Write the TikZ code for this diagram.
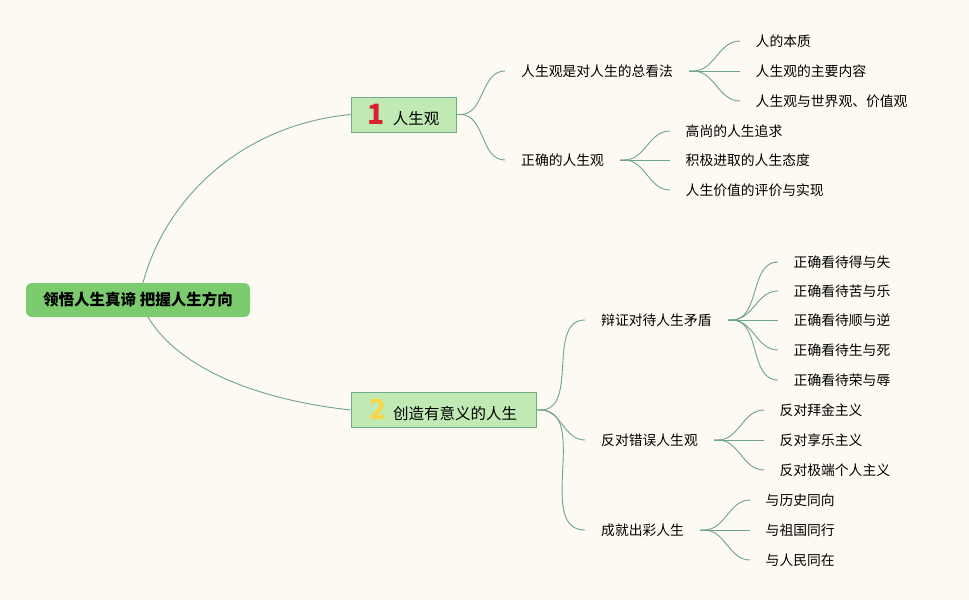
\documentclass[tikz,border=0pt]{standalone}
\usepackage{fontspec}
\setmainfont{Noto Sans CJK SC}
\usepackage{tikz}
\usepackage{xcolor}
\definecolor{paper}{HTML}{FDFBF1}
\definecolor{branchline}{HTML}{6FA38C}
\definecolor{rootgreen}{HTML}{7DCB6F}
\definecolor{topicgreen}{HTML}{C0E9B4}
\definecolor{topicedge}{HTML}{72AB8A}
\definecolor{markred}{HTML}{D9202E}
\definecolor{markyellow}{HTML}{F6D64A}
\newcommand{\topicmark}[2]{{\color{#1}\fontsize{28}{28}\selectfont\bfseries #2}}

\begin{document}
\begin{tikzpicture}[x=1pt,y=-1pt,
    root/.style={fill=rootgreen,rounded corners=6pt,minimum width=224pt,minimum height=34pt,font=\fontsize{15.5}{18}\selectfont\bfseries},
    topic/.style={fill=topicgreen,draw=topicedge,line width=0.8pt,minimum height=35pt,inner ysep=0pt,font=\fontsize{15.5}{18}\selectfont},
    sub/.style={anchor=west,inner xsep=16pt,inner ysep=1pt,font=\fontsize{13.8}{16}\selectfont},
    leaf/.style={sub,inner xsep=15.5pt},
    branch/.style={draw=branchline,line width=0.9pt}]
      \fill [paper] (0,0) rectangle (969,600);
      \useasboundingbox (0,0) rectangle (969,600);
      \node [root] (R) at (138,300) {领悟人生真谛 把握人生方向};
      \node [topic,minimum width=105pt] (T1) at (403.5,114.5) {\topicmark{markred}{1}\hspace{8pt}人生观};
      \node [topic,minimum width=185pt] (T2) at (443.5,410) {\topicmark{markyellow}{2}\hspace{6pt}创造有意义的人生};
      \draw [branch] ([xshift=5pt]R.north) .. controls (165,200) and (240,125) .. (T1.west);
      \draw [branch] ([xshift=10pt]R.south) .. controls (180,370) and (260,400) .. (T2.west);
      % first topic
      \node [sub] (A1) at (505,71) {人生观是对人生的总看法};
      \node [sub] (A2) at (505,160) {正确的人生观};
      \draw [branch] (T1.east) -- ++(4,0) to [out=0,in=180] (A1.west);
      \draw [branch] (T1.east) -- ++(4,0) to [out=0,in=180] (A2.west);
      \node [leaf] (A11) at (740,41) {人的本质};
      \node [leaf] (A12) at (740,71) {人生观的主要内容};
      \node [leaf] (A13) at (740,101) {人生观与世界观、价值观};
      \draw [branch] (A1.east) -- ++(4,0) to [out=0,in=180] (A11.west);
      \draw [branch] (A1.east) -- (A12.west);
      \draw [branch] (A1.east) -- ++(4,0) to [out=0,in=180] (A13.west);
      \node [leaf] (A21) at (670,131) {高尚的人生追求};
      \node [leaf] (A22) at (670,160) {积极进取的人生态度};
      \node [leaf] (A23) at (670,190) {人生价值的评价与实现};
      \draw [branch] (A2.east) -- ++(4,0) to [out=0,in=180] (A21.west);
      \draw [branch] (A2.east) -- (A22.west);
      \draw [branch] (A2.east) -- ++(4,0) to [out=0,in=180] (A23.west);
      % second topic
      \node [sub] (B1) at (585,320) {辩证对待人生矛盾};
      \node [sub] (B2) at (585,440) {反对错误人生观};
      \node [sub] (B3) at (585,530) {成就出彩人生};
      \draw [branch] (T2.east) -- ++(4,0) to [out=0,in=180] (B1.west);
      \draw [branch] (T2.east) -- ++(4,0) to [out=0,in=180] (B2.west);
      \draw [branch] (T2.east) -- ++(4,0) to [out=0,in=180] (B3.west);
      \node [leaf] (B11) at (778,262) {正确看待得与失};
      \node [leaf] (B12) at (778,291) {正确看待苦与乐};
      \node [leaf] (B13) at (778,320) {正确看待顺与逆};
      \node [leaf] (B14) at (778,350) {正确看待生与死};
      \node [leaf] (B15) at (778,380) {正确看待荣与辱};
      \draw [branch] (B1.east) -- ++(4,0) to [out=0,in=180] (B11.west);
      \draw [branch] (B1.east) -- ++(4,0) to [out=0,in=180] (B12.west);
      \draw [branch] (B1.east) -- (B13.west);
      \draw [branch] (B1.east) -- ++(4,0) to [out=0,in=180] (B14.west);
      \draw [branch] (B1.east) -- ++(4,0) to [out=0,in=180] (B15.west);
      \node [leaf] (B21) at (764,410) {反对拜金主义};
      \node [leaf] (B22) at (764,440) {反对享乐主义};
      \node [leaf] (B23) at (764,470) {反对极端个人主义};
      \draw [branch] (B2.east) -- ++(4,0) to [out=0,in=180] (B21.west);
      \draw [branch] (B2.east) -- (B22.west);
      \draw [branch] (B2.east) -- ++(4,0) to [out=0,in=180] (B23.west);
      \node [leaf] (B31) at (750,500) {与历史同向};
      \node [leaf] (B32) at (750,530) {与祖国同行};
      \node [leaf] (B33) at (750,560) {与人民同在};
      \draw [branch] (B3.east) -- ++(4,0) to [out=0,in=180] (B31.west);
      \draw [branch] (B3.east) -- (B32.west);
      \draw [branch] (B3.east) -- ++(4,0) to [out=0,in=180] (B33.west);
    \end{tikzpicture}
\end{document}
